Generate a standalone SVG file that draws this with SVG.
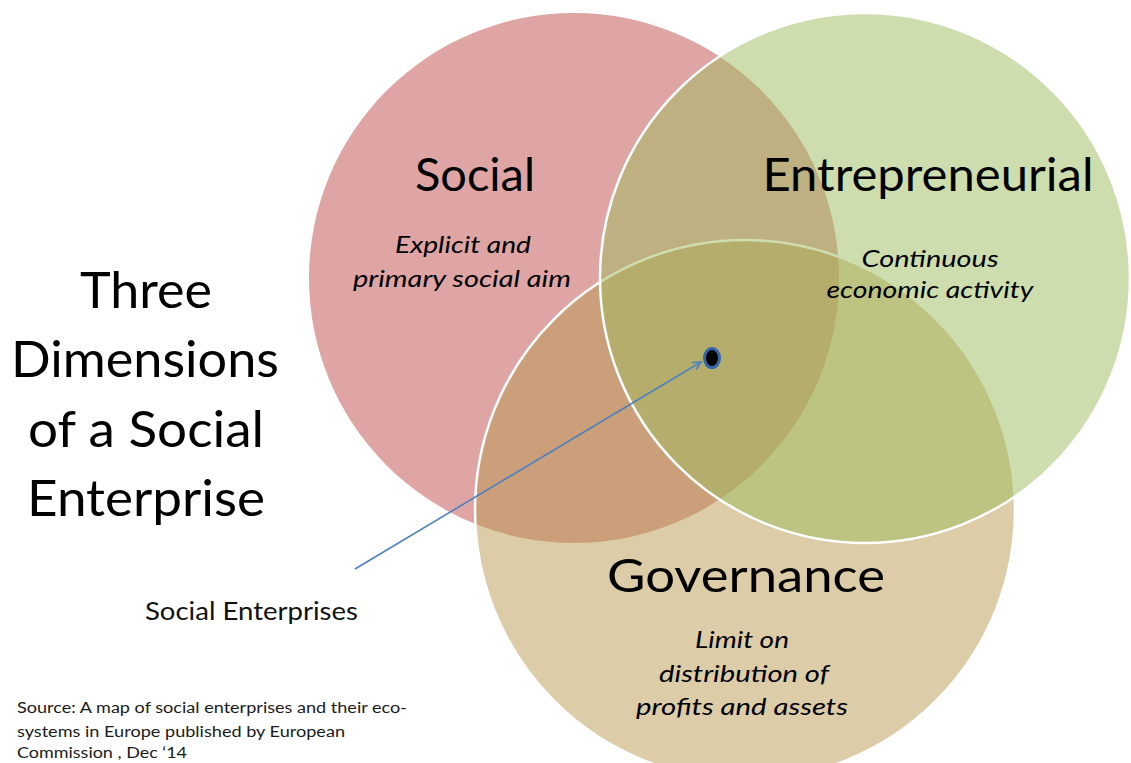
<svg xmlns="http://www.w3.org/2000/svg" width="1131" height="763" viewBox="0 0 1131 763">
  <style>
    .head { font-family: Lato, "Liberation Sans", sans-serif; font-size: 47px; fill: #000; text-anchor: middle; }
    .sub { font-family: Lato, "Liberation Sans", sans-serif; font-size: 23px; font-style: italic; fill: #000; text-anchor: middle; }
    .title { font-family: Lato, "Liberation Sans", sans-serif; font-size: 51px; fill: #000; text-anchor: middle; }
    .label { font-family: Lato, "Liberation Sans", sans-serif; font-size: 25px; fill: #111; }
    .src { font-family: Lato, "Liberation Sans", sans-serif; font-size: 15.5px; fill: #1a1a1a; }
    .ring { stroke: #ffffff; stroke-width: 2.5; fill-opacity: 0.5; }
  </style>
  <defs>
    <marker id="open-arrow" viewBox="0 0 10 10" refX="9" refY="5" markerWidth="10" markerHeight="10" markerUnits="userSpaceOnUse" orient="auto">
      <path d="M1,1 L9,5 L1,9" fill="none" stroke="#4F81BD" stroke-width="1.6"/>
    </marker>
  </defs>
  <rect x="0" y="0" width="1131" height="763" fill="#ffffff"/>

  <g id="social">
    <circle cx="574" cy="278" r="265" fill="#DFA5A5"/>
    <text class="head" x="475" y="191" textLength="120" lengthAdjust="spacingAndGlyphs">Social</text>
    <text class="sub" x="463" y="253" textLength="136" lengthAdjust="spacingAndGlyphs">Explicit and</text>
    <text class="sub" x="462" y="287" textLength="218" lengthAdjust="spacingAndGlyphs">primary social aim</text>
  </g>

  <g id="governance">
    <circle class="ring" cx="745" cy="510" r="270" fill="rgb(185,153,81)"/>
    <text class="head" x="746" y="592" textLength="278" lengthAdjust="spacingAndGlyphs">Governance</text>
    <text class="sub" x="742" y="648" textLength="94" lengthAdjust="spacingAndGlyphs">Limit on</text>
    <text class="sub" x="744" y="682" textLength="170" lengthAdjust="spacingAndGlyphs">distribution of</text>
    <text class="sub" x="742" y="715" textLength="212" lengthAdjust="spacingAndGlyphs">profits and assets</text>
  </g>

  <g id="entrepreneurial">
    <circle class="ring" cx="865" cy="278" r="265" fill="rgb(157,187,91)"/>
    <text class="head" x="928" y="191" textLength="331" lengthAdjust="spacingAndGlyphs">Entrepreneurial</text>
    <text class="sub" x="930" y="267" textLength="137" lengthAdjust="spacingAndGlyphs">Continuous</text>
    <text class="sub" x="930" y="298" textLength="207" lengthAdjust="spacingAndGlyphs">economic activity</text>
  </g>

  <g id="title">
    <text class="title" x="146" y="308" textLength="132" lengthAdjust="spacingAndGlyphs">Three</text>
    <text class="title" x="145" y="377" textLength="268" lengthAdjust="spacingAndGlyphs">Dimensions</text>
    <text class="title" x="146" y="447" textLength="236" lengthAdjust="spacingAndGlyphs">of a Social</text>
    <text class="title" x="146" y="516" textLength="238" lengthAdjust="spacingAndGlyphs">Enterprise</text>
  </g>

  <g id="connectors">
    <line x1="355" y1="569" x2="701" y2="362" stroke="#4F81BD" stroke-width="1.6" marker-end="url(#open-arrow)"/>
    <ellipse cx="712" cy="358" rx="7.5" ry="9.5" fill="#000" stroke="#3565AC" stroke-width="3"/>
    <text class="label" x="145" y="620" textLength="213" lengthAdjust="spacingAndGlyphs">Social Enterprises</text>
  </g>

  <g id="source">
    <text class="src" x="17" y="713" textLength="390" lengthAdjust="spacingAndGlyphs">Source: A map of social enterprises and their eco-</text>
    <text class="src" x="17" y="737" textLength="328" lengthAdjust="spacingAndGlyphs">systems in Europe published by European</text>
    <text class="src" x="17" y="758" textLength="170" lengthAdjust="spacingAndGlyphs">Commission , Dec ‘14</text>
  </g>
</svg>
